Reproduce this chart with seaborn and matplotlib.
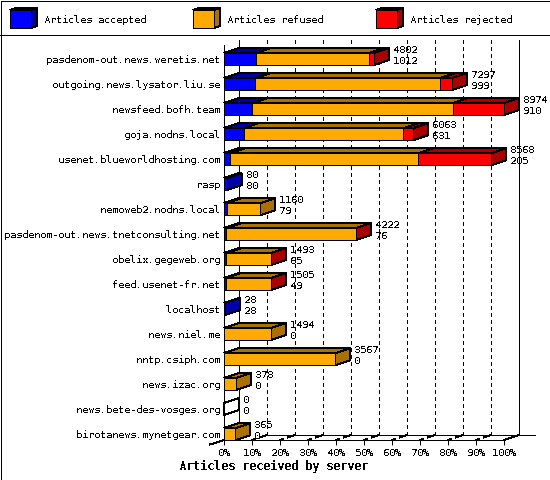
import matplotlib
matplotlib.use("Agg")
import matplotlib.pyplot as plt
from matplotlib.patches import Polygon, Rectangle
import pandas as pd
import seaborn as sns

hosts = ["pasdenom-out.news.weretis.net", "outgoing.news.lysator.liu.se", "newsfeed.bofh.team",
         "goja.nodns.local", "usenet.blueworldhosting.com", "rasp", "nemoweb2.nodns.local",
         "pasdenom-out.news.tnetconsulting.net", "obelix.gegeweb.org", "feed.usenet-fr.net",
         "localhost", "news.niel.me", "nntp.csiph.com", "news.izac.org",
         "news.bete-des-vosges.org", "birotanews.mynetgear.com"]
received = [4802, 7297, 8974, 6063, 8568, 80, 1160, 4222, 1493, 1505, 28, 1494, 3567, 378, 0, 365]
accepted = [1012, 999, 910, 631, 205, 80, 79, 76, 65, 49, 28, 0, 0, 0, 0, 0]
rejected = [170, 370, 1644, 315, 2340, 0, 0, 1, 1, 1, 0, 0, 0, 0, 0, 0]
pct_ticks = [0, 10, 20, 30, 40, 50, 60, 70, 80, 90, 100]
legend_names = ["Articles accepted", "Articles refused", "Articles rejected"]

BLUE, ORANGE, RED = "#0000FF", "#FFAA00", "#FF0000"
DBLUE, DORANGE, DRED = "#0000AA", "#AA7100", "#AA0000"

sns.set_theme(style="white")
plt.rcParams.update({"font.family": ["DejaVu Sans Mono"], "text.antialiased": False,
                     "text.hinting": "native", "text.hinting_factor": 1,
                     "text.color": "black", "axes.labelcolor": "black",
                     "xtick.color": "black", "ytick.color": "black"})
FS = 7.2
LW = 0.72
SHIFT = 0.4

fig = plt.figure(figsize=(5.5, 4.8), dpi=100, facecolor="white")
fig.add_artist(Rectangle((0.5 / 550, 0.5 / 480), 549 / 550, 479 / 480, transform=fig.transFigure,
                         fc="none", ec="black", lw=LW, antialiased=False))

# pixel overlay for the legend and back wall
bg = fig.add_axes([0, 0, 1, 1], zorder=0)
bg.set_xlim(SHIFT, 550 + SHIFT); bg.set_ylim(480 + SHIFT, SHIFT); bg.axis("off")
def pline(xs, ys, **kw):
    kw.setdefault("color", "black"); kw.setdefault("lw", LW)
    bg.plot(xs, ys, antialiased=False, solid_capstyle="butt", dash_capstyle="butt", **kw)

pline([0, 551], [35.5, 35.5])
for k in range(1, 10):
    pline([239.5 + 28 * k] * 2, [40.5, 435.5], ls=(0, (4, 4)))
pline([239.5, 239.5], [40.5, 435.5])
pline([519.5, 519.5], [40.5, 435.5])
pline([262, 535], [435.5, 435.5])
pline([504.5, 519.5], [440.5, 435.5])
pline([224.5, 210], [440.5, 445])
for k in range(1, 10):
    x0 = 224.5 + 28 * k
    pline([x0, x0 + 15], [440.5, 435.5], ls=(0, (2.5, 3, 6, 10)), lw=1.0)

# legend swatches
for x, name, c, d in zip([10.5, 193.5, 376.5], legend_names, [BLUE, ORANGE, RED], [DBLUE, DORANGE, DRED]):
    w, t, b = 21, 10.5, 28.5
    bg.add_patch(Polygon([(x, t), (x + w, t), (x + w + 6, t - 2), (x + 6, t - 2)], fc=d, ec="black", lw=LW, antialiased=False))
    bg.add_patch(Polygon([(x + w, t), (x + w + 6, t - 2), (x + w + 6, b - 2), (x + w, b)], fc=d, ec="black", lw=LW, antialiased=False))
    bg.add_patch(Rectangle((x, t), w, b - t, fc=c, ec="black", lw=LW, antialiased=False))
    bg.text(x + 33.5, 20.4, name, fontsize=FS, va="center", ha="left")

# main axes: 0..100 % on the front plane
ax = fig.add_axes([(224.5 - SHIFT) / 550, 1 - (440.5 - SHIFT) / 480, 280 / 550, 395 / 480], zorder=1)
ax.patch.set_alpha(0)

df = pd.DataFrame({"host": hosts, "received": received, "accepted": accepted, "rejected": rejected})
scale = 100 / df["received"].max()
df["p_acc"] = df["accepted"] * scale
df["p_ref"] = (df["received"] - df["rejected"]) * scale
df["p_tot"] = df["received"] * scale

BW = 12 / 25
for col, c in [("p_tot", RED), ("p_ref", ORANGE), ("p_acc", BLUE)]:
    sns.barplot(data=df, y="host", x=col, order=hosts, orient="h", color=c, saturation=1,
                width=BW, errorbar=None, edgecolor="black", linewidth=LW, antialiased=False,
                zorder=4, ax=ax)

DX, DY = 15 / 2.8, 5 / 25
for i, row in df.iterrows():
    t, b = i - BW / 2, i + BW / 2
    segs = [(0, row.p_acc, DBLUE), (row.p_acc, row.p_ref, DORANGE), (row.p_ref, row.p_tot, DRED)]
    for x0, x1, c in segs:
        if x1 > x0:
            ax.add_patch(Polygon([(x0, t), (x1, t), (x1 + DX, t - DY), (x0 + DX, t - DY)], fc=c, ec="black",
                                 lw=LW, antialiased=False, clip_on=False, zorder=3))
    side = [s[2] for s in segs if s[1] > s[0]]
    side = side[-1] if side else "none"
    ax.add_patch(Polygon([(row.p_tot, t), (row.p_tot + DX, t - DY), (row.p_tot + DX, b - DY), (row.p_tot, b)],
                         fc=side, ec="black", lw=LW, antialiased=False, clip_on=False, zorder=3))
    lx = row.p_tot + DX + 4 / 2.8
    ax.text(lx, i - 9 / 25, str(row.received), fontsize=FS, va="center", ha="left", zorder=6)
    ax.text(lx, i + 2 / 25, str(row.accepted), fontsize=FS, va="center", ha="left", zorder=6)

ax.set_xlim(0, 100)
ax.set_ylim((440.5 - 59.5) / 25, (45.5 - 59.5) / 25)
ax.set_xticks(pct_ticks)
ax.set_xticklabels([f"{p}%" for p in pct_ticks], fontsize=FS)
ax.tick_params(axis="x", length=3.6, width=LW, pad=2, bottom=True)
ax.tick_params(axis="y", length=0, pad=3, labelsize=FS)
ax.set_ylabel("")
ax.set_xlabel("Articles received by server", fontsize=8.4, fontweight="bold")
ax.xaxis.set_label_coords((273.5 - 224.5) / 280, -(467 - 440.5) / 395)
ax.xaxis.label.set_verticalalignment("center")
for s in ["top", "right"]:
    ax.spines[s].set_visible(False)
for s in ["left", "bottom"]:
    ax.spines[s].set_color("black")
    ax.spines[s].set_linewidth(LW)
    ax.spines[s].set_antialiased(False)
    ax.spines[s].set_zorder(5)
for t in ax.xaxis.get_ticklines():
    t.set_antialiased(False)

fig.savefig("out.png", dpi=100)
